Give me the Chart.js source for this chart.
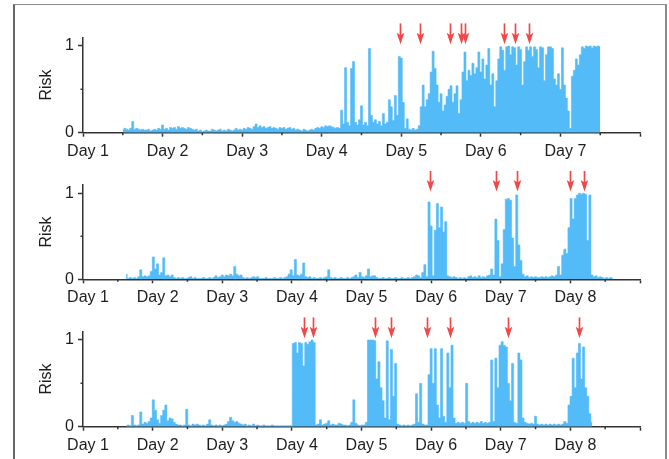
<!DOCTYPE html>
<html lang="en">

<head>
    <meta charset="UTF-8">
    <meta name="viewport" content="width=device-width, initial-scale=1.0">
    <title>Risk by day</title>

    <script src="https://cdn.jsdelivr.net/npm/chart.js"></script>

    <style>
        body { margin: 0; background: #ffffff; }
        #figure { position: relative; width: 669px; height: 459px; overflow: hidden; }
        #frame {
            position: absolute; left: 13px; top: 4px; width: 650px; height: 480px;
            border-top: 1.5px solid #8c8c8c; border-left: 2px solid #666666; border-right: 2px solid #8c8c8c;
        }
        canvas { position: absolute; left: 0; }
    </style>
</head>

<body>
    <div id="figure">
        <div id="frame"></div>
        <canvas id="panel1" width="669" height="160" style="top:0px"></canvas>
        <canvas id="panel2" width="669" height="150" style="top:160px"></canvas>
        <canvas id="panel3" width="669" height="149" style="top:310px"></canvas>
    </div>
</body>

</html>

<script>

// tick labels
var dayLabels1 = ['Day 1', 'Day 2', 'Day 3', 'Day 4', 'Day 5', 'Day 6', 'Day 7'];
var dayLabels23 = ['Day 1', 'Day 2', 'Day 3', 'Day 4', 'Day 5', 'Day 6', 'Day 7', 'Day 8'];

// sampling of each series (in days)
var start1 = 1.5, step1 = 0.025;
var start2 = 1.62, step2 = 0.03;
var start3 = 1.62, step3 = 0.03;

// risk values
var risk1 = [
    0.03, 0.05, 0.04, 0.03, 0.05, 0.13, 0.04, 0.05, 0.04, 0.03, 0.04, 0.03, 0.03, 0.04, 0.02, 0.03, 0.04, 0.03, 0.05, 0.04,
    0.09, 0.04, 0.05, 0.03, 0.06, 0.05, 0.06, 0.04, 0.07, 0.05, 0.06, 0.05, 0.04, 0.06, 0.05, 0.04, 0.03, 0.04, 0.02, 0.03,
    0.01, 0.02, 0.03, 0.02, 0.02, 0.04, 0.03, 0.02, 0.03, 0.04, 0.02, 0.03, 0.02, 0.04, 0.03, 0.02, 0.03, 0.05, 0.03, 0.04,
    0.03, 0.05, 0.04, 0.06, 0.05, 0.04, 0.07, 0.10, 0.06, 0.08, 0.06, 0.07, 0.05, 0.06, 0.07, 0.05, 0.06, 0.05, 0.04, 0.06,
    0.05, 0.06, 0.04, 0.05, 0.06, 0.04, 0.05, 0.03, 0.04, 0.03, 0.02, 0.04, 0.03, 0.02, 0.03, 0.04, 0.03, 0.05, 0.06, 0.05,
    0.07, 0.06, 0.08, 0.07, 0.08, 0.07, 0.06, 0.05, 0.06, 0.05, 0.26, 0.10, 0.75, 0.12, 0.08, 0.74, 0.82, 0.12, 0.09, 0.15,
    0.31, 0.09, 0.12, 0.08, 0.97, 0.20, 0.12, 0.15, 0.10, 0.13, 0.08, 0.22, 0.10, 0.12, 0.38, 0.30, 0.14, 0.43, 0.20, 0.88,
    0.86, 0.35, 0.05, 0.16, 0.04, 0.03, 0.05, 0.03, 0.04, 0.08, 0.30, 0.55, 0.30, 0.38, 0.45, 0.70, 0.94, 0.74, 0.55, 0.35,
    0.45, 0.25, 0.32, 0.42, 0.50, 0.54, 0.35, 0.45, 0.54, 0.22, 0.38, 0.70, 0.93, 0.60, 0.72, 0.66, 0.80, 0.68, 0.75, 0.93,
    0.70, 0.85, 0.62, 0.78, 0.97, 0.55, 0.68, 0.30, 0.60, 0.85, 0.99, 0.95, 0.72, 0.99, 1.00, 0.90, 0.99, 0.98, 0.78, 0.99,
    0.96, 0.55, 0.82, 0.99, 0.95, 0.99, 0.88, 0.99, 0.96, 0.75, 0.99, 0.98, 0.60, 0.90, 0.99, 0.99, 0.97, 0.62, 0.55, 0.68,
    0.50, 0.98, 0.55, 0.40, 0.25, 0.05, 0.65, 0.72, 0.85, 0.78, 0.90, 0.99, 0.97, 1.00, 0.99, 1.00, 0.98, 1.00, 0.99, 1.00,
    0.99
];

var risk2 = [
    0.06, 0.01, 0.02, 0.01, 0.02, 0.01, 0.03, 0.11, 0.03, 0.04,
    0.03, 0.04, 0.09, 0.26, 0.12, 0.18, 0.05, 0.08, 0.25, 0.04,
    0.05, 0.03, 0.05, 0.02, 0.01, 0.02, 0.01, 0.02, 0.01, 0.01,
    0.02, 0.03, 0.01, 0.02, 0.01, 0.01, 0.01, 0.02, 0.01, 0.01,
    0.02, 0.01, 0.02, 0.04, 0.02, 0.03, 0.05, 0.03, 0.05, 0.04,
    0.06, 0.04, 0.15, 0.06, 0.04, 0.05, 0.02, 0.01, 0.02, 0.01,
    0.02, 0.03, 0.02, 0.03, 0.01, 0.01, 0.01, 0.02, 0.01, 0.01,
    0.01, 0.02, 0.01, 0.01, 0.02, 0.01, 0.02, 0.03, 0.06, 0.11,
    0.04, 0.23, 0.05, 0.04, 0.06, 0.19, 0.03, 0.02, 0.03, 0.01,
    0.02, 0.01, 0.01, 0.02, 0.01, 0.02, 0.03, 0.11, 0.02, 0.01,
    0.02, 0.01, 0.01, 0.02, 0.01, 0.01, 0.02, 0.01, 0.02, 0.03,
    0.05, 0.02, 0.08, 0.03, 0.02, 0.04, 0.12, 0.03, 0.04, 0.04,
    0.02, 0.01, 0.01, 0.02, 0.01, 0.01, 0.02, 0.01, 0.01, 0.02,
    0.01, 0.01, 0.02, 0.01, 0.01, 0.02, 0.01, 0.02, 0.03, 0.05,
    0.04, 0.02, 0.08, 0.17, 0.03, 0.90, 0.62, 0.04, 0.57, 0.88,
    0.60, 0.84, 0.55, 0.67, 0.04, 0.03, 0.02, 0.03, 0.02, 0.01,
    0.02, 0.01, 0.02, 0.01, 0.03, 0.04, 0.02, 0.03, 0.02, 0.04,
    0.02, 0.03, 0.02, 0.04, 0.05, 0.12, 0.05, 0.70, 0.45, 0.03,
    0.18, 0.58, 0.93, 0.94, 0.92, 0.48, 0.15, 0.98, 0.40, 0.22,
    0.06, 0.03, 0.04, 0.02, 0.03, 0.02, 0.03, 0.02, 0.02, 0.03,
    0.02, 0.03, 0.02, 0.03, 0.04, 0.03, 0.05, 0.15, 0.05, 0.28,
    0.35, 0.30, 0.60, 0.94, 0.70, 0.94, 0.98, 1.00, 0.99, 1.00,
    0.99, 0.45, 0.98, 0.05, 0.03, 0.04, 0.02, 0.03, 0.02, 0.01,
    0.02, 0.01, 0.02, 0.01
];

var risk3 = [
    0.01, 0.02, 0.01, 0.13, 0.02, 0.01, 0.02, 0.17, 0.03, 0.05,
    0.04, 0.06, 0.10, 0.31, 0.19, 0.08, 0.04, 0.13, 0.19, 0.25,
    0.07, 0.10, 0.09, 0.05, 0.03, 0.02, 0.02, 0.01, 0.02, 0.20,
    0.02, 0.01, 0.03, 0.02, 0.03, 0.02, 0.01, 0.02, 0.01, 0.03,
    0.08, 0.02, 0.01, 0.02, 0.01, 0.02, 0.01, 0.02, 0.03, 0.06,
    0.11, 0.07, 0.05, 0.06, 0.04, 0.03, 0.02, 0.03, 0.01, 0.02,
    0.01, 0.03, 0.01, 0.02, 0.01, 0.01, 0.02, 0.01, 0.01, 0.01,
    0.02, 0.01, 0.01, 0.01, 0.01, 0.01, 0.01, 0.01, 0.01, 0.01,
    0.96, 0.97, 0.85, 0.97, 0.96, 0.70, 0.97, 0.95, 0.98, 1.00,
    0.97, 0.02, 0.03, 0.08, 0.02, 0.03, 0.04, 0.07, 0.02, 0.03,
    0.02, 0.02, 0.04, 0.03, 0.02, 0.02, 0.01, 0.02, 0.05, 0.31,
    0.04, 0.02, 0.01, 0.02, 0.02, 0.05, 1.00, 1.00, 1.00, 0.99,
    0.55, 0.75, 0.45, 0.30, 0.10, 0.99, 0.08, 0.89, 0.35, 0.73,
    0.03, 0.02, 0.01, 0.02, 0.01, 0.02, 0.01, 0.02, 0.03, 0.38,
    0.05, 0.50, 0.03, 0.02, 0.02, 0.60, 0.90, 0.50, 0.90, 0.25,
    0.10, 0.90, 0.12, 0.05, 0.85, 0.45, 0.94, 0.10, 0.04, 0.05,
    0.04, 0.05, 0.04, 0.50, 0.06, 0.04, 0.05, 0.04, 0.05, 0.04,
    0.06, 0.04, 0.05, 0.04, 0.05, 0.77, 0.06, 0.79, 0.45, 0.94,
    0.98, 0.94, 0.92, 0.50, 0.30, 0.73, 0.05, 0.04, 0.85, 0.77,
    0.10, 0.05, 0.04, 0.03, 0.04, 0.03, 0.12, 0.03, 0.02, 0.03,
    0.02, 0.03, 0.02, 0.03, 0.02, 0.03, 0.02, 0.03, 0.02, 0.03,
    0.06, 0.04, 0.25, 0.35, 0.79, 0.45, 0.85, 0.96, 0.55, 0.92,
    0.45, 0.35, 0.15, 0.05
];

// red arrows (day positions)
var arrows1 = [4.98, 5.23, 5.61, 5.75, 5.80, 6.29, 6.43, 6.61];
var arrows2 = [5.99, 6.93, 7.24, 8.00, 8.20];
var arrows3 = [4.18, 4.30, 5.20, 5.42, 5.94, 6.27, 7.10, 8.13];

var blue = '#52bbf8';
var axisColor = '#333333';
var arrowColor = '#f04848';
var textColor = '#1e1e1e';
var fontName = "'Liberation Sans', Arial, sans-serif";

// minor ticks and arrows
var extras = {
    id: 'extras',
    afterDraw: function (chart, args, opts) {
        var ctx = chart.ctx;
        var x = chart.scales.x;
        var y = chart.scales.y;
        ctx.save();
        ctx.strokeStyle = axisColor;
        ctx.lineWidth = 1.5;
        ctx.beginPath();
        x.ticks.forEach(function (t) {
            if (!Number.isInteger(t.value)) {
                var px = x.getPixelForValue(t.value);
                ctx.moveTo(px, y.bottom);
                ctx.lineTo(px, y.bottom + 2.5);
            }
        });
        y.ticks.forEach(function (t) {
            if (!Number.isInteger(t.value)) {
                var py = y.getPixelForValue(t.value);
                ctx.moveTo(x.left, py);
                ctx.lineTo(x.left - 2.5, py);
            }
        });
        ctx.stroke();

        ctx.strokeStyle = arrowColor;
        ctx.fillStyle = arrowColor;
        ctx.lineWidth = 1.7;
        var top = y.getPixelForValue(1.26);
        var tip = y.getPixelForValue(1.02);
        opts.arrows.forEach(function (d) {
            var px = Math.round(x.getPixelForValue(d)) + 0.5;
            ctx.beginPath();
            ctx.moveTo(px, top);
            ctx.lineTo(px, tip - 6);
            ctx.stroke();
            ctx.beginPath();
            ctx.moveTo(px - 3.8, tip - 11.5);
            ctx.lineTo(px, tip - 9);
            ctx.lineTo(px + 3.8, tip - 11.5);
            ctx.lineTo(px, tip);
            ctx.closePath();
            ctx.fill();
        });
        ctx.restore();
    }
};

function drawPanel(canvasId, values, start, step, labels, lastDay, arrows, padTop, xAxisHeight) {
    var points = values.map(function (v, i) {
        return { x: start + i * step, y: v };
    });

    var config = {
        type: 'line',
        data: {
            datasets: [{
                data: points,
                borderColor: blue,
                backgroundColor: blue,
                borderWidth: 0.6,
                fill: 'origin',
                pointRadius: 0,
                stepped: 'middle'
            }]
        },
        options: {
            responsive: false,
            animation: false,
            events: [],
            layout: { padding: { left: 0, right: 29, top: padTop, bottom: 0 } },
            plugins: {
                legend: { display: false },
                tooltip: { enabled: false },
                extras: { arrows: arrows }
            },
            scales: {
                x: {
                    type: 'linear',
                    min: 1,
                    max: lastDay,
                    afterBuildTicks: function (scale) {
                        var t = [];
                        for (var d = 1; d <= lastDay; d += 0.5) t.push({ value: d });
                        scale.ticks = t;
                    },
                    afterFit: function (scale) { scale.height = xAxisHeight; },
                    border: { color: axisColor, width: 1.5 },
                    grid: {
                        drawOnChartArea: false,
                        tickLength: 4,
                        tickWidth: 1.5,
                        tickColor: function (c) {
                            return (c.tick && Number.isInteger(c.tick.value)) ? axisColor : 'rgba(0,0,0,0)';
                        }
                    },
                    ticks: {
                        autoSkip: false,
                        maxRotation: 0,
                        padding: 5,
                        labelOffset: 5,
                        color: textColor,
                        font: { family: fontName, size: 16 },
                        callback: function (v) {
                            if (!Number.isInteger(v)) return '';
                            return labels[v - 1] || '';
                        }
                    }
                },
                y: {
                    min: 0,
                    max: 1.1,
                    afterBuildTicks: function (scale) {
                        scale.ticks = [{ value: 0 }, { value: 0.5 }, { value: 1 }];
                    },
                    afterFit: function (scale) { scale.width = 83; },
                    border: { color: axisColor, width: 1.5 },
                    grid: {
                        drawOnChartArea: false,
                        tickLength: 5,
                        tickWidth: 1.5,
                        tickColor: function (c) {
                            return (c.tick && Number.isInteger(c.tick.value)) ? axisColor : 'rgba(0,0,0,0)';
                        }
                    },
                    ticks: {
                        padding: 4,
                        color: textColor,
                        font: { family: fontName, size: 16 },
                        callback: function (v) {
                            return Number.isInteger(v) ? String(v) : '';
                        }
                    },
                    title: {
                        display: true,
                        text: 'Risk',
                        color: textColor,
                        font: { family: fontName, size: 16 },
                        padding: { top: 37.4, bottom: 0 }
                    }
                }
            }
        },
        plugins: [extras]
    };

    var ctx = document.getElementById(canvasId).getContext('2d');
    return new Chart(ctx, config);
}

drawPanel('panel1', risk1, start1, step1, dayLabels1, 8, arrows1, 37.3, 27.3);
drawPanel('panel2', risk2, start2, step2, dayLabels23, 9, arrows2, 24.7, 30.7);
drawPanel('panel3', risk3, start3, step3, dayLabels23, 9, arrows3, 21.3, 32.3);

</script>
